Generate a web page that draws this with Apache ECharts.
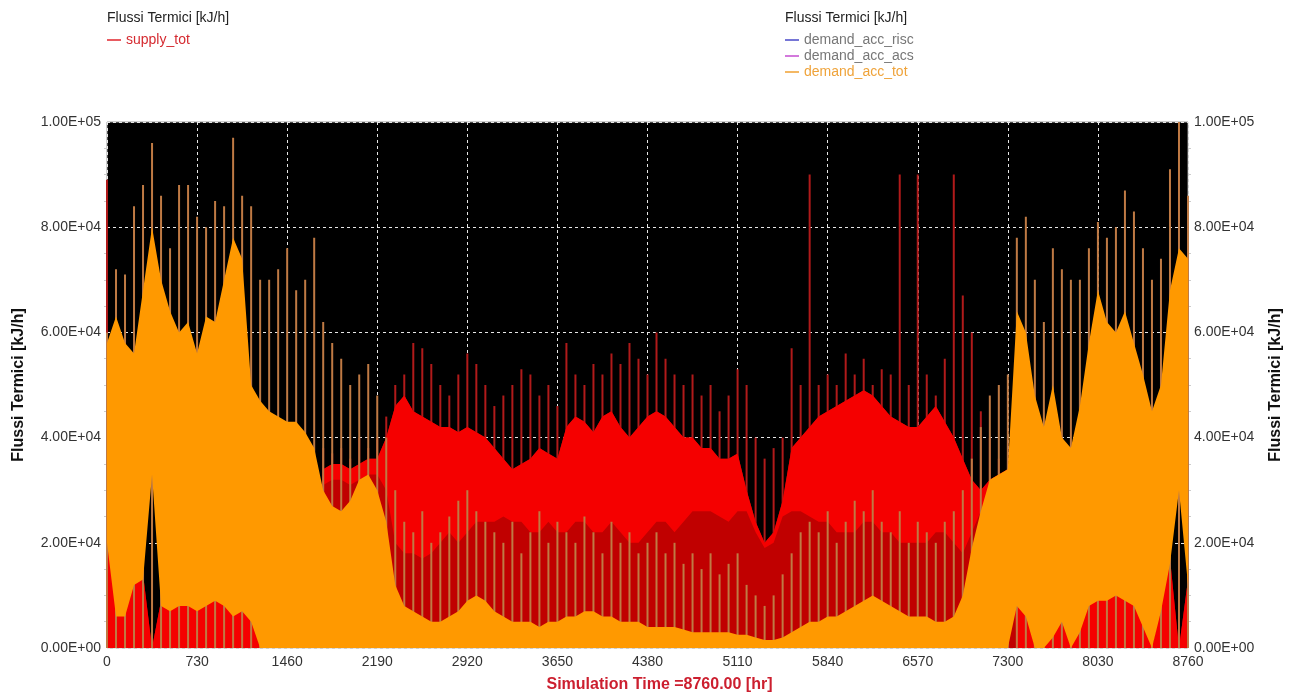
<!DOCTYPE html>
<html>
<head>
<meta charset="utf-8">
<title>Flussi Termici</title>
<script src="https://cdn.jsdelivr.net/npm/echarts@6/dist/echarts.min.js"></script>
<style>
html, body { margin:0; padding:0; background:#fff; }
#chart1 { width:1293px; height:695px; }
</style>
</head>
<body>
<div id="chart1"></div>
<script>
var stepHours = 73;
var labelEvery = 10;          // one x label every 730 h
var yTickStep = 20000;
var xAxisName = 'Simulation Time =8760.00 [hr]';
var yAxisName = 'Flussi Termici [kJ/h]';

// demand_acc_tot : top of the solid orange band
var demandTop = [
 58000,63000,58000,56000,68000,80000,70000,64000,60000,62000,
 56000,63000,62000,70000,78000,74000,50000,47000,45000,44000,
 43000,43000,41000,38000,30000,27000,26000,28000,32000,33000,
 30000,24000,12000,8000,7000,6000,5000,5000,6000,7000,
 9000,10000,9000,7000,6000,5000,5000,5000,4000,5000,
 5000,6000,6000,7000,7000,6000,6000,5000,5000,5000,
 4000,4000,4000,4000,3500,3000,3000,3000,3000,3000,
 2500,2500,2000,1500,1500,2000,3000,4000,5000,5000,
 6000,6000,7000,8000,9000,10000,9000,8000,7000,6000,
 6000,6000,5000,5000,6000,10000,19000,26000,32000,33000,
 34000,64000,60000,48000,42000,50000,40000,38000,46000,58000,
 68000,62000,60000,64000,58000,52000,45000,50000,68000,76000,
 74000];
// demand_acc_tot : lowest value of the band (winter hours only)
var demandLow = [
 20000,6000,6000,12000,13000,33000,8000,7000,8000,8000,
 7000,8000,9000,8000,6000,7000,5000,0,0,0,
 0,0,0,0,0,0,0,0,0,0,
 0,0,0,0,0,0,0,0,0,0,
 0,0,0,0,0,0,0,0,0,0,
 0,0,0,0,0,0,0,0,0,0,
 0,0,0,0,0,0,0,0,0,0,
 0,0,0,0,0,0,0,0,0,0,
 0,0,0,0,0,0,0,0,0,0,
 0,0,0,0,0,0,0,0,0,0,
 0,8000,6000,0,0,2000,5000,0,3000,8000,
 9000,9000,10000,9000,8000,4000,0,7000,16000,30000,
 12000];
// demand_acc_tot : highest spike in each sample
var demandPeak = [
 60000,72000,71000,84000,88000,96000,86000,76000,88000,88000,
 82000,80000,85000,84000,97000,86000,84000,70000,70000,72000,
 76000,68000,70000,78000,62000,58000,55000,50000,52000,54000,
 48000,40000,30000,24000,22000,26000,20000,22000,25000,28000,
 30000,26000,24000,22000,20000,24000,18000,22000,26000,20000,
 24000,22000,20000,25000,22000,18000,24000,20000,22000,18000,
 20000,22000,18000,20000,16000,18000,15000,18000,14000,16000,
 18000,12000,10000,8000,10000,14000,18000,22000,24000,22000,
 26000,20000,24000,28000,26000,30000,24000,22000,26000,20000,
 24000,22000,20000,24000,26000,30000,36000,42000,48000,50000,
 52000,78000,82000,70000,62000,76000,72000,70000,70000,76000,
 81000,78000,80000,87000,83000,76000,70000,74000,91000,100000,
 86000];
// supply_tot : top of the red band
var supplyTop = [
 25000,7000,7000,13000,14000,0,9000,8000,9000,9000,
 8000,9000,10000,9000,7000,8000,6000,0,0,0,
 0,0,0,0,34000,35000,35000,34000,35000,36000,
 36000,40000,46000,48000,45000,44000,43000,42000,42000,41000,
 42000,41000,40000,38000,36000,34000,35000,36000,38000,37000,
 36000,42000,44000,43000,41000,44000,45000,42000,40000,42000,
 44000,45000,44000,42000,40000,40000,38000,38000,36000,36000,
 37000,30000,24000,20000,22000,28000,38000,40000,42000,44000,
 45000,46000,47000,48000,49000,48000,46000,44000,43000,42000,
 42000,44000,46000,43000,40000,36000,32000,30000,32000,33000,
 34000,9000,7000,0,0,3000,6000,0,4000,9000,
 10000,10000,11000,10000,9000,5000,0,8000,17000,0,
 13000];
// supply_tot : bottom of the solid bright red part
var supplyCoreLow = [
 0,0,0,0,0,0,0,0,0,0,
 0,0,0,0,0,0,0,0,0,0,
 0,0,0,0,31000,32000,32000,31000,32000,33000,
 33000,30000,20000,18000,18000,17000,18000,20000,22000,20000,
 22000,24000,24000,24000,25000,24000,24000,22000,22000,24000,
 22000,22000,24000,24000,22000,22000,24000,22000,20000,20000,
 22000,24000,24000,22000,24000,26000,26000,26000,25000,24000,
 26000,26000,22000,19000,20000,25000,26000,26000,25000,24000,
 24000,22000,22000,22000,24000,24000,22000,22000,20000,20000,
 20000,20000,22000,22000,20000,18000,22000,26000,30000,32000,
 33000,0,0,0,0,0,0,0,0,0,
 0,0,0,0,0,0,0,0,0,0,
 0];
// supply_tot : highest spike in each sample
var supplyPeak = [
 89000,0,0,0,0,0,0,0,0,0,
 0,0,0,0,0,0,0,0,0,0,
 0,0,0,0,38000,37000,38000,36000,40000,38000,
 40000,44000,50000,52000,58000,57000,54000,50000,48000,52000,
 56000,54000,50000,46000,48000,50000,53000,52000,48000,50000,
 46000,58000,52000,50000,54000,52000,56000,54000,58000,55000,
 52000,60000,55000,52000,50000,52000,48000,50000,45000,48000,
 53000,50000,40000,36000,38000,40000,57000,50000,90000,50000,
 52000,50000,56000,52000,55000,50000,53000,52000,90000,50000,
 90000,52000,48000,55000,90000,67000,60000,45000,40000,36000,
 34000,0,0,0,0,0,0,0,0,0,
 0,0,0,0,0,0,0,0,0,0,
 0];

// hour of each sample, used as the x categories
var hours = demandTop.map(function (v, i) { return String(i * stepHours); });

function loadChartView(id, option) {
    var myChart = echarts.init(document.getElementById(id));
    myChart.setOption(option);
    return "ok";
}

function minus(top, low) {
    return top.map(function (v, i) { return v - low[i]; });
}

// 20000 -> 2.00E+04
function sciLabel(v) {
    var p = v.toExponential(2).toUpperCase().split('E');
    var sign = p[1].charAt(0);
    var d = p[1].slice(1);
    if (d.length < 2) d = '0' + d;
    return p[0] + 'E' + sign + d;
}

function getChart() {
    var font = 'Liberation Sans, Arial, sans-serif';
    var dashed = { color: '#e6e6e6', type: [3, 3], width: 1 };
    var flat = { width: 0, opacity: 0 };
    var yAxisBase = {
        type: 'value', min: 0, max: 100000, interval: yTickStep,
        axisLine: { show: false }, axisTick: { show: false },
        minorTick: { show: true, splitNumber: 4, length: 3, lineStyle: { color: '#ccc' } },
        axisLabel: { formatter: sciLabel, color: '#333', fontSize: 14, fontFamily: font, margin: 6 },
        name: yAxisName, nameLocation: 'middle', nameGap: 80, nameRotate: 90,
        nameTextStyle: { fontWeight: 'bold', fontSize: 16, color: '#111', fontFamily: font }
    };

    var option = {
        animation: false,
        title: [
            { text: yAxisName, left: 107, top: 11, padding: 0,
              textStyle: { fontSize: 14, fontWeight: 'normal', color: '#222', fontFamily: font } },
            { text: yAxisName, left: 785, top: 11, padding: 0,
              textStyle: { fontSize: 14, fontWeight: 'normal', color: '#222', fontFamily: font } }
        ],
        legend: [
            { left: 107, top: 33, padding: 0, orient: 'vertical', icon: 'rect',
              itemWidth: 14, itemHeight: 1.5, selectedMode: false,
              textStyle: { fontSize: 14, fontFamily: font },
              data: [{ name: 'supply_tot', textStyle: { color: '#d52a30' } }] },
            { left: 785, top: 33, padding: 0, orient: 'vertical', icon: 'rect',
              itemWidth: 14, itemHeight: 1.5, itemGap: 2, selectedMode: false,
              textStyle: { fontSize: 14, fontFamily: font },
              data: [
                  { name: 'demand_acc_risc', textStyle: { color: '#777' } },
                  { name: 'demand_acc_acs', textStyle: { color: '#777' } },
                  { name: 'demand_acc_tot', textStyle: { color: '#efa33a' } }
              ] }
        ],
        grid: { left: 107, right: 105, top: 122, bottom: 47, show: true,
                containLabel: false, outerBoundsMode: 'none',
                backgroundColor: '#000', borderColor: '#999', borderWidth: 1 },
        xAxis: {
            type: 'category', data: hours, boundaryGap: false,
            axisLine: { show: false }, axisTick: { show: false },
            axisLabel: { interval: labelEvery - 1, color: '#333', fontSize: 14, fontFamily: font, margin: 7 },
            splitLine: { show: true, interval: labelEvery - 1, lineStyle: dashed },
            name: xAxisName, nameLocation: 'middle', nameGap: 29,
            nameTextStyle: { color: '#cc1f2f', fontWeight: 'bold', fontSize: 16,
                             fontFamily: font, padding: [0, 0, 0, 24] }
        },
        yAxis: [
            echarts.util.merge({ position: 'left', splitLine: { show: true, lineStyle: dashed } }, yAxisBase),
            echarts.util.merge({ position: 'right', splitLine: { show: false } }, yAxisBase)
        ],
        series: [
            { name: 'supply_spikes', type: 'bar', barWidth: 2, barGap: '-100%', z: 2,
              data: supplyPeak, itemStyle: { color: '#b01a1a' } },
            { name: 'supply_tot', type: 'line', color: '#e0242c', showSymbol: false, z: 3,
              data: supplyTop, lineStyle: flat,
              areaStyle: { color: '#c00000', opacity: 1 } },
            { name: 'supply_core_base', type: 'line', stack: 'core', showSymbol: false, z: 4,
              data: supplyCoreLow, lineStyle: flat },
            { name: 'supply_core', type: 'line', stack: 'core', showSymbol: false, z: 4,
              data: minus(supplyTop, supplyCoreLow), lineStyle: flat,
              areaStyle: { color: '#f50000', opacity: 1 } },
            { name: 'demand_spikes', type: 'bar', barWidth: 2, barGap: '-100%', z: 5,
              data: demandPeak, itemStyle: { color: '#bf7a44' } },
            { name: 'demand_base', type: 'line', stack: 'dem', showSymbol: false, z: 6,
              data: demandLow, lineStyle: flat },
            { name: 'demand_acc_tot', type: 'line', stack: 'dem', color: '#f0a030', showSymbol: false, z: 6,
              data: minus(demandTop, demandLow), lineStyle: flat,
              areaStyle: { color: '#ff9900', opacity: 1 } },
            { name: 'demand_acc_risc', type: 'line', color: '#4848c8', data: [] },
            { name: 'demand_acc_acs', type: 'line', color: '#c44cd0', data: [] }
        ]
    };
    return option;
}

loadChartView('chart1', getChart());
</script>
</body>
</html>
